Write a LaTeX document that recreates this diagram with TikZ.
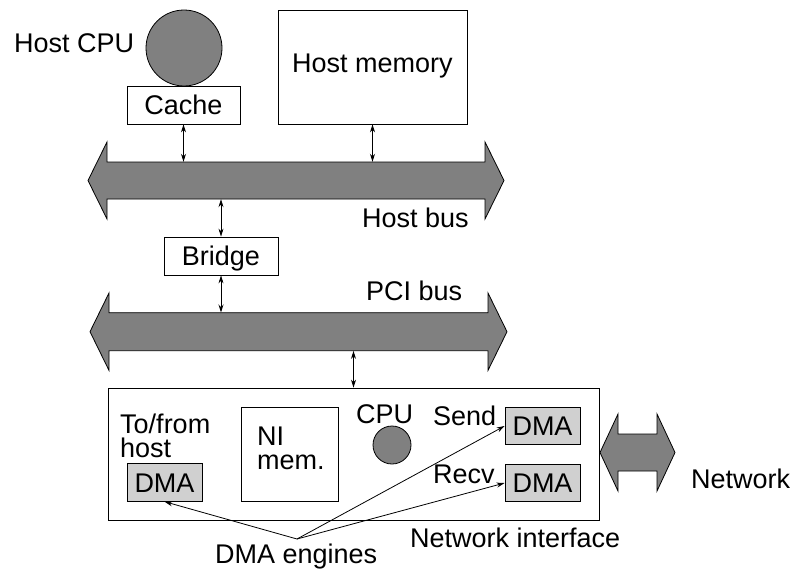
\documentclass[tikz,border=0pt]{standalone}
\usepackage{fontspec}
\setmainfont{Liberation Sans}
\usetikzlibrary{arrows.meta}
\definecolor{busgray}{RGB}{128,128,128}
\definecolor{dmagray}{RGB}{208,208,208}
\tikzset{
  lbl/.style={inner sep=0pt, anchor=base west},
  boxnode/.style={draw, line width=0.8pt, inner sep=0pt, text height=19.3pt, text depth=0pt},
  dmabox/.style={boxnode, fill=dmagray, minimum width=75pt, minimum height=37.5pt},
  busshape/.style={draw, line width=0.8pt, fill=busgray},
  busbody/.style={inner sep=0pt},
  link/.style={line width=0.8pt, {Stealth[length=8pt,width=5pt]}-{Stealth[length=8pt,width=5pt]}},
  ptr/.style={line width=0.8pt, -{Stealth[length=8pt,width=5pt]}}
}
\begin{document}
\begin{tikzpicture}[x=1pt, y=-1pt, font=\fontsize{27}{24}\selectfont]
\useasboundingbox (0,0) rectangle (792,570);

% host CPU and cache
\node[circle, draw, line width=0.8pt, fill=busgray, minimum size=76pt, inner sep=0pt] (hcpu) at (184,48) {};
\node[lbl] (hcpulbl) at (14,52) {Host CPU};
\node[boxnode, minimum width=113pt, minimum height=38pt] (cache) at (183.5,105) {Cache};

% host memory
\node[draw, line width=0.8pt, minimum width=189pt, minimum height=114pt, inner sep=0pt] (hmem) at (372.5,67) {};
\node[inner sep=0pt, anchor=base] (hmemlbl) at (372.5,72) {Host memory};

% host bus
\draw[busshape] (88,180.5) -- (107,142) -- (107,162) -- (485,162) -- (485,142) -- (504,180.5)
  -- (485,219) -- (485,199) -- (107,199) -- (107,219) -- cycle;
\node[busbody, minimum width=378pt, minimum height=37pt] (hostbus) at (296,180.5) {};
\node[lbl] (hostbuslbl) at (362,227) {Host bus};

% bridge
\node[boxnode, minimum width=114pt, minimum height=38pt] (bridge) at (221,256) {Bridge};

% PCI bus
\draw[busshape] (90,331.7) -- (109,293) -- (109,312.7) -- (488,312.7) -- (488,293) -- (507,331.7)
  -- (488,370.4) -- (488,350.7) -- (109,350.7) -- (109,370.4) -- cycle;
\node[busbody, minimum width=379pt, minimum height=38pt] (pcibus) at (298.5,331.7) {};
\node[lbl] (pcibuslbl) at (366,300) {PCI bus};

% network interface
\node[draw, line width=0.8pt, minimum width=491pt, minimum height=132pt, inner sep=0pt] (ni) at (353.5,454) {};
\node[inner sep=0pt, anchor=north west, align=left] (tofrom) at (120,413.3) {To/from\\host};
\node[dmabox] (ldma) at (164.5,482.5) {DMA};
\node[draw, line width=0.8pt, minimum width=97pt, minimum height=94pt, inner sep=0pt] (nimem) at (289.5,454) {};
\node[inner sep=0pt, anchor=north west, align=left] (nilbl) at (257,426.5) {NI\\mem.};
\node[lbl] (cpulbl) at (356,423) {CPU};
\node[circle, draw, line width=0.8pt, fill=busgray, minimum size=38pt, inner sep=0pt] (nicpu) at (392,445) {};
\node[lbl] (sendlbl) at (433,425) {Send};
\node[dmabox] (sdma) at (542.5,426) {DMA};
\node[lbl] (recvlbl) at (433,483) {Recv};
\node[dmabox] (rdma) at (542.5,483) {DMA};

% network
\draw[busshape] (600,452.5) -- (618,414) -- (618,434) -- (657,434) -- (657,414) -- (675,452.5)
  -- (657,491) -- (657,471) -- (618,471) -- (618,491) -- cycle;
\node[busbody, minimum width=39pt, minimum height=37pt] (netbus) at (637.5,452.5) {};
\node[lbl] (netlbl) at (691,488) {Network};
\node[lbl] (nilabel) at (410,547) {Network interface};
\node[lbl] (dmaeng) at (215,563) {DMA engines};
\coordinate (dmafrom) at (297,539);

% connectors
\draw[link] (cache.south) -- (cache.south |- hostbus.north);
\draw[link] (hmem.south) -- (hmem.south |- hostbus.north);
\draw[link] (bridge.north |- hostbus.south) -- (bridge.north);
\draw[link] (bridge.south) -- (bridge.south |- pcibus.north);
\draw[link] (ni.north |- pcibus.south) -- (ni.north);
\draw[ptr] (dmafrom) -- (ldma.south);
\draw[ptr] (dmafrom) -- (sdma.west);
\draw[ptr] (dmafrom) -- (rdma.west);
\end{tikzpicture}
\end{document}
